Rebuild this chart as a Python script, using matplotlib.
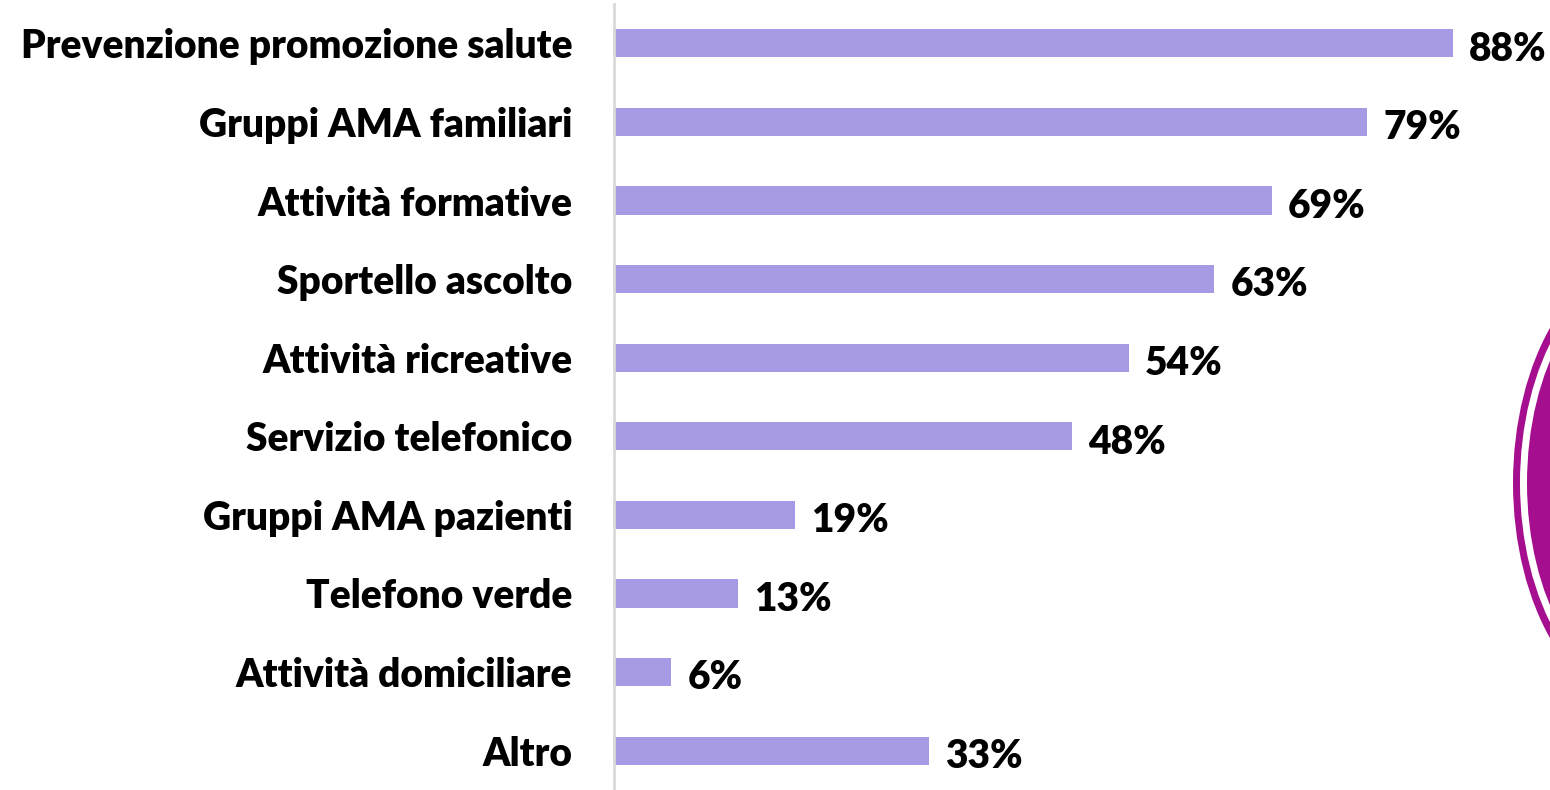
import matplotlib.pyplot as plt
from matplotlib.patches import Ellipse

categories = ["Prevenzione promozione salute", "Gruppi AMA familiari", "Attività formative",
              "Sportello ascolto", "Attività ricreative", "Servizio telefonico",
              "Gruppi AMA pazienti", "Telefono verde", "Attività domiciliare", "Altro"]
values = [88, 79, 69, 63, 54, 48, 19, 13, 6, 33]

plt.rcParams['font.family'] = ['Lato', 'DejaVu Sans']

fig = plt.figure(figsize=(15.5, 7.9), dpi=100)
ax = fig.add_axes([614 / 1550, 0, 1 - 614 / 1550, 1 - 4 / 790])

y = list(range(len(categories)))
ax.barh(y, values, height=0.36, color="#A59AE3")
for yi, v in zip(y, values):
    ax.text(v + 1.7, yi + 0.03, "{}%".format(v), va="center_baseline", ha="left",
            fontsize=28, fontweight="heavy", color="black")

ax.set_ylim(len(categories) - 0.5, -0.5)
ax.set_xlim(0, 98.2)
ax.set_yticks(y)
ax.set_yticklabels(categories, fontsize=28, fontweight="heavy", va="center_baseline")
ax.tick_params(axis="y", length=0, pad=30)
ax.set_xticks([])
for s in ["top", "right", "bottom"]:
    ax.spines[s].set_visible(False)
ax.spines["left"].set_color("#D9D9D9")
ax.spines["left"].set_linewidth(2)

# decorative purple ring on the right edge
W, H = 1550, 790
outer = Ellipse((1650 / W, 1 - 483 / H), 2 * 137 / W, 2 * 227 / H,
                transform=fig.transFigure, facecolor="#A50E8E", edgecolor="none",
                clip_on=False)
gap = Ellipse((1650 / W, 1 - 483 / H), 2 * 130 / W, 2 * 218 / H,
              transform=fig.transFigure, facecolor="white", edgecolor="none",
              clip_on=False)
inner = Ellipse((1650 / W, 1 - 483 / H), 2 * 123 / W, 2 * 210 / H,
                transform=fig.transFigure, facecolor="#A50E8E", edgecolor="none",
                clip_on=False)
for p in (outer, gap, inner):
    fig.patches.append(p)

fig.savefig("out.png", dpi=100)
